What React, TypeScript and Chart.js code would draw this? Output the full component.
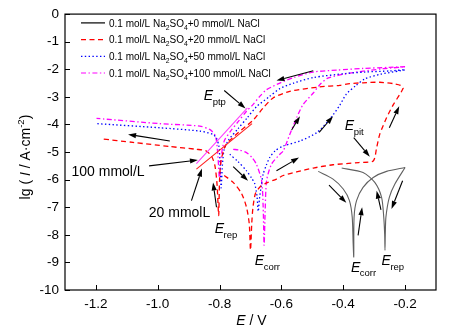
import React, { useEffect, useRef } from 'react';
import { Chart, registerables } from 'chart.js';

Chart.register(...registerables);

const FONT = '"Liberation Sans", Arial, Helvetica, sans-serif';

// ---- axes ----
const xTickValues = [-1.2, -1.0, -0.8, -0.6, -0.4, -0.2];
const yTickValues = [0, -1, -2, -3, -4, -5, -6, -7, -8, -9, -10];

// ---- 20 mmol/L NaCl (red dashed), forward + reverse scan ----
const nacl20E = [-0.785, -0.756, -0.729, -0.713, -0.704, -0.7, -0.696, -0.692, -0.684, -0.668, -0.648, -0.616, -0.594, -0.551, -0.497, -0.433, -0.35, -0.303, -0.292, -0.282, -0.26, -0.238, -0.206,
  -0.215, -0.238, -0.282, -0.336, -0.379, -0.411, -0.476, -0.573, -0.627, -0.659, -0.692, -0.74, -0.78, -0.795, -0.8, -0.803, -0.808, -0.815, -0.826, -0.845, -0.875, -0.961, -1.08, -1.184];
const nacl20LgI = [-5.85, -6.1, -6.5, -7.0, -7.6, -8.55, -7.6, -7.0, -6.5, -6.25, -6.12, -5.98, -5.85, -5.72, -5.58, -5.46, -5.38, -5.32, -4.84, -4.36, -3.76, -3.28, -2.68,
  -2.58, -2.52, -2.47, -2.49, -2.52, -2.58, -2.64, -2.8, -3.04, -3.4, -3.85, -4.3, -4.75, -5.3, -6.0, -7.3, -6.2, -5.5, -5.15, -4.95, -4.9, -4.8, -4.65, -4.52];

// ---- 50 mmol/L NaCl (blue dotted) ----
const nacl50E = [-0.767, -0.74, -0.713, -0.696, -0.686, -0.679, -0.675, -0.671, -0.665, -0.659, -0.648, -0.638, -0.62, -0.594, -0.54, -0.486, -0.443, -0.411, -0.39, -0.36, -0.33, -0.28, -0.2,
  -0.25, -0.33, -0.39, -0.497, -0.56, -0.605, -0.64, -0.68, -0.71, -0.74, -0.77, -0.785, -0.791, -0.795, -0.798, -0.802, -0.81, -0.821, -0.864, -0.994, -1.198];
const nacl50LgI = [-5.08, -5.35, -5.68, -5.95, -6.16, -6.6, -7.15, -6.7, -6.2, -5.8, -5.45, -5.2, -4.95, -4.78, -4.6, -4.3, -3.8, -3.3, -2.9, -2.6, -2.35, -2.18, -2.02,
  -2.06, -2.1, -2.15, -2.3, -2.5, -2.7, -3.0, -3.35, -3.75, -4.15, -4.55, -4.9, -5.5, -6.3, -5.5, -4.8, -4.5, -4.36, -4.24, -4.12, -3.97];

// ---- 100 mmol/L NaCl (magenta dash-dot) ----
const nacl100E = [-0.756, -0.735, -0.713, -0.695, -0.681, -0.664, -0.659, -0.656, -0.653, -0.648, -0.632, -0.605, -0.594, -0.573, -0.551, -0.53, -0.497, -0.476, -0.45, -0.379, -0.271, -0.2,
  -0.25, -0.336, -0.42, -0.497, -0.56, -0.605, -0.648, -0.67, -0.692, -0.713, -0.74, -0.765, -0.785, -0.795, -0.8, -0.805, -0.81, -0.816, -0.832, -0.864, -0.994, -1.198];
const nacl100LgI = [-4.9, -4.93, -5.02, -5.2, -5.44, -6.04, -7.0, -8.38, -7.3, -6.04, -5.44, -5.08, -4.96, -4.36, -3.76, -3.28, -2.86, -2.56, -2.32, -2.14, -1.98, -1.91,
  -1.93, -1.97, -2.03, -2.1, -2.3, -2.5, -2.74, -2.98, -3.28, -3.52, -3.9, -4.25, -4.6, -5.2, -6.0, -5.2, -4.6, -4.36, -4.18, -4.06, -3.97, -3.78];

// ---- tangent lines used to read E_ptp ----
const tangent20E = [-0.875, -0.695];
const tangent20LgI = [-5.62, -3.97];
const tangent100E = [-0.875, -0.71];
const tangent100LgI = [-5.42, -3.4];

// ---- schematic inset (E_corr / E_rep) ----
const insetCorrE = [-0.481, -0.433, -0.4, -0.38, -0.371, -0.368, -0.366, -0.365, -0.357, -0.336, -0.303, -0.26, -0.2];
const insetCorrLgI = [-5.7, -5.98, -6.34, -6.76, -7.36, -8.3, -8.8, -7.36, -6.76, -6.28, -5.92, -5.7, -5.56];
const insetRepE = [-0.405, -0.336, -0.298, -0.276, -0.269, -0.266, -0.265, -0.264, -0.262, -0.251, -0.233, -0.2];
const insetRepLgI = [-5.58, -5.74, -6.1, -6.64, -7.36, -8.0, -8.56, -8.0, -7.36, -6.64, -6.16, -5.56];

// ---- legend ----
const legendConc = ['0', '20', '50', '100'];
const legendColors = ['#000000', '#ff0000', '#0000ff', '#ff00ff'];
const legendDashes: number[][] = [[], [5, 3.5], [1.4, 2.4], [5, 2.5, 1.4, 2.5]];

// ---- annotations (data coords) ----
const arrows: number[][] = [
  // x1, y1 (tail), x2, y2 (head)
  [-0.497, -2.05, -0.616, -2.41],
  [-0.785, -2.77, -0.716, -3.42],
  [-0.567, -4.2, -0.54, -3.7],
  [-0.478, -4.29, -0.433, -3.7],
  [-0.251, -4.12, -0.219, -3.34],
  [-0.366, -4.48, -0.314, -5.17],
  [-0.961, -4.6, -1.096, -4.36],
  [-1.028, -5.5, -0.87, -5.29],
  [-0.891, -6.76, -0.857, -5.6],
  [-0.81, -7.0, -0.821, -6.1],
  [-0.756, -5.53, -0.708, -6.04],
  [-0.616, -5.68, -0.543, -5.2],
  [-0.446, -6.2, -0.39, -6.84],
  [-0.352, -8.02, -0.339, -7.0],
  [-0.278, -7.1, -0.292, -6.4],
  [-0.208, -6.04, -0.244, -7.06],
];
const potentialLabels: { sub: string; x: number; y: number }[] = [
  { sub: 'ptp', x: -0.851, y: -3.13 },
  { sub: 'pit', x: -0.395, y: -4.21 },
  { sub: 'rep', x: -0.816, y: -7.94 },
  { sub: 'corr', x: -0.686, y: -9.1 },
  { sub: 'corr', x: -0.375, y: -9.34 },
  { sub: 'rep', x: -0.276, y: -9.1 },
];
const textLabels: { text: string; x: number; y: number }[] = [
  { text: '100 mmol/L', x: -1.279, y: -5.86 },
  { text: '20 mmolL', x: -1.029, y: -7.34 },
];

type Part = { t: string; italic?: boolean; sub?: boolean; sup?: boolean };

function partFont(p: Part, size: number) {
  const s = p.sub || p.sup ? size * 0.68 : size;
  return `${p.italic ? 'italic ' : ''}${s}px ${FONT}`;
}
function richWidth(ctx: CanvasRenderingContext2D, parts: Part[], size: number) {
  let w = 0;
  for (const p of parts) {
    ctx.font = partFont(p, size);
    w += ctx.measureText(p.t).width;
  }
  return w;
}
function drawRich(ctx: CanvasRenderingContext2D, x: number, y: number, parts: Part[], size: number) {
  let cx = x;
  for (const p of parts) {
    ctx.font = partFont(p, size);
    const dy = p.sub ? size * 0.3 : p.sup ? -size * 0.4 : 0;
    ctx.fillText(p.t, cx, y + dy);
    cx += ctx.measureText(p.t).width;
  }
}

function pts(xs: number[], ys: number[]) {
  return xs.map((x, i) => ({ x, y: ys[i] }));
}

const overlayPlugin = {
  id: 'overlay',
  afterDatasetsDraw(chart: any) {
    const { ctx, chartArea } = chart;
    const xs = chart.scales.x;
    const ys = chart.scales.y;
    const { left, right, top, bottom } = chartArea;
    ctx.save();
    ctx.textBaseline = 'alphabetic';
    ctx.fillStyle = '#000';
    ctx.strokeStyle = '#000';

    // frame
    ctx.lineWidth = 1.2;
    ctx.setLineDash([]);
    ctx.strokeRect(left, top, right - left, bottom - top);
    // inward ticks
    ctx.lineWidth = 1;
    ctx.beginPath();
    for (const v of xTickValues) {
      const px = Math.round(xs.getPixelForValue(v)) + 0.5;
      ctx.moveTo(px, bottom);
      ctx.lineTo(px, bottom - 5);
    }
    for (const v of yTickValues) {
      const py = Math.round(ys.getPixelForValue(v)) + 0.5;
      ctx.moveTo(left, py);
      ctx.lineTo(left + 5, py);
    }
    ctx.stroke();

    // legend
    for (let i = 0; i < legendConc.length; i++) {
      const ry = top + 8.8 + i * 16.7;
      ctx.strokeStyle = legendColors[i];
      ctx.lineWidth = 1.2;
      ctx.setLineDash(legendDashes[i]);
      ctx.beginPath();
      ctx.moveTo(left + 16, ry);
      ctx.lineTo(left + 40, ry);
      ctx.stroke();
      ctx.setLineDash([]);
      ctx.fillStyle = '#000';
      drawRich(ctx, left + 44, ry + 3.7, [
        { t: '0.1 mol/L Na' }, { t: '2', sub: true }, { t: 'SO' }, { t: '4', sub: true },
        { t: `+${legendConc[i]} mmol/L NaCl` },
      ], 10);
    }

    // arrows
    ctx.strokeStyle = '#000';
    ctx.fillStyle = '#000';
    ctx.lineWidth = 1.1;
    for (const a of arrows) {
      const x1 = xs.getPixelForValue(a[0]);
      const y1 = ys.getPixelForValue(a[1]);
      const x2 = xs.getPixelForValue(a[2]);
      const y2 = ys.getPixelForValue(a[3]);
      const ang = Math.atan2(y2 - y1, x2 - x1);
      const hl = 8, hw = 2.6;
      const bx = x2 - hl * Math.cos(ang), by = y2 - hl * Math.sin(ang);
      ctx.beginPath();
      ctx.moveTo(x1, y1);
      ctx.lineTo(bx, by);
      ctx.stroke();
      ctx.beginPath();
      ctx.moveTo(x2, y2);
      ctx.lineTo(bx + hw * Math.sin(ang), by - hw * Math.cos(ang));
      ctx.lineTo(bx - hw * Math.sin(ang), by + hw * Math.cos(ang));
      ctx.closePath();
      ctx.fill();
    }

    // potential labels
    ctx.fillStyle = '#000';
    for (const l of potentialLabels) {
      const px = xs.getPixelForValue(l.x);
      const py = ys.getPixelForValue(l.y);
      ctx.font = `italic 14px ${FONT}`;
      ctx.fillText('E', px, py);
      const w = ctx.measureText('E').width;
      ctx.font = `9.5px ${FONT}`;
      ctx.fillText(l.sub, px + w - 0.5, py + 4.5);
    }
    for (const l of textLabels) {
      ctx.font = `14px ${FONT}`;
      ctx.fillText(l.text, xs.getPixelForValue(l.x), ys.getPixelForValue(l.y));
    }

    // x axis title
    const xParts: Part[] = [{ t: 'E', italic: true }, { t: ' / V' }];
    const xw = richWidth(ctx, xParts, 14);
    drawRich(ctx, (left + right) / 2 - xw / 2 + 1, 325, xParts, 14);

    // y axis title
    const yParts: Part[] = [{ t: 'lg ( ' }, { t: 'I', italic: true }, { t: ' / A\u00b7cm' }, { t: '-2', sup: true }, { t: ')' }];
    const yw = richWidth(ctx, yParts, 14);
    ctx.save();
    ctx.translate(30, (top + bottom) / 2 + 5);
    ctx.rotate(-Math.PI / 2);
    drawRich(ctx, -yw / 2, 0, yParts, 14);
    ctx.restore();

    ctx.restore();
  },
};

export default function App() {
  const ref = useRef<HTMLCanvasElement | null>(null);
  useEffect(() => {
    if (!ref.current) return;
    const curve = (data: any, color: string, dash: number[], width = 1.3) => ({
      data,
      borderColor: color,
      borderWidth: width,
      borderDash: dash,
      pointRadius: 0,
      showLine: true,
      fill: false,
      tension: 0.25,
    });
    const chart = new Chart(ref.current, {
      type: 'scatter',
      data: {
        datasets: [
          curve(pts(insetCorrE, insetCorrLgI), '#606060', [], 1.1),
          curve(pts(insetRepE, insetRepLgI), '#606060', [], 1.1),
          curve(pts(tangent20E, tangent20LgI), '#ff2020', [], 1.1),
          curve(pts(tangent100E, tangent100LgI), '#ff40ff', [], 1.1),
          curve(pts(nacl20E, nacl20LgI), '#ff0000', [5, 3.5]),
          curve(pts(nacl50E, nacl50LgI), '#0000ff', [1.4, 2.4]),
          curve(pts(nacl100E, nacl100LgI), '#ff00ff', [5, 2.5, 1.4, 2.5]),
        ] as any,
      },
      options: {
        animation: false,
        responsive: false,
        events: [],
        layout: { padding: { left: 0, right: 15, top: 12, bottom: 0 } },
        plugins: { legend: { display: false }, tooltip: { enabled: false } },
        scales: {
          x: {
            type: 'linear',
            min: -1.3,
            max: -0.1,
            grid: { display: false, drawTicks: false },
            border: { display: false },
            afterBuildTicks: (s: any) => { s.ticks = xTickValues.map((v) => ({ value: v })); },
            afterFit: (s: any) => { s.height = 43; },
            ticks: {
              color: '#000',
              font: { family: FONT, size: 13.5 },
              padding: 6,
              maxRotation: 0,
              autoSkip: false,
              callback: (v: any) => Number(v).toFixed(1),
            },
          },
          y: {
            type: 'linear',
            min: -10,
            max: 0,
            grid: { display: false, drawTicks: false },
            border: { display: false },
            afterBuildTicks: (s: any) => { s.ticks = yTickValues.map((v) => ({ value: v })); },
            afterFit: (s: any) => { s.width = 65; },
            ticks: {
              color: '#000',
              font: { family: FONT, size: 13.5 },
              padding: 6,
              autoSkip: false,
              callback: (v: any) => String(Number(v)),
            },
          },
        },
      },
      plugins: [overlayPlugin],
    });
    return () => chart.destroy();
  }, []);
  return (
    <canvas
      ref={ref}
      width={451}
      height={333}
      style={{ position: 'absolute', left: 0, top: 0, width: 451, height: 333, display: 'block', background: '#fff' }}
    />
  );
}
